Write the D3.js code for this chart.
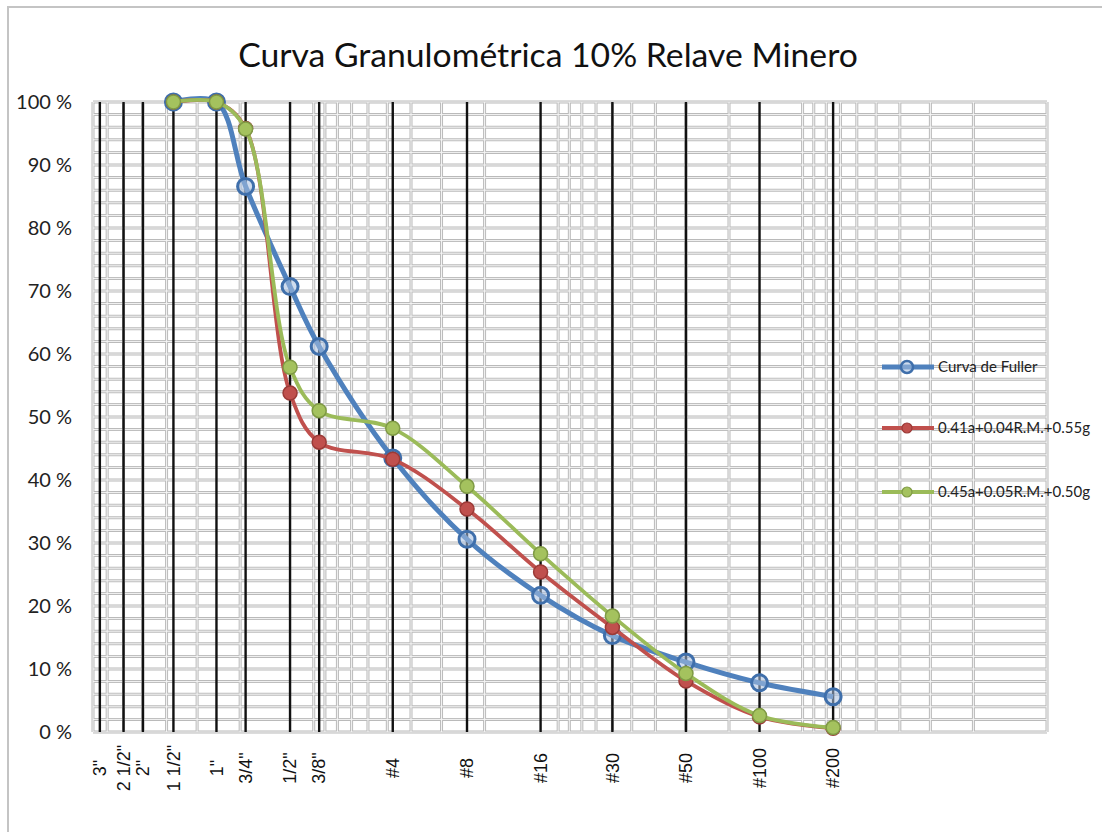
<!DOCTYPE html>
<html><head><meta charset="utf-8">
<script src="https://cdn.jsdelivr.net/npm/d3@7"></script>
<style>body{margin:0;background:#fff}</style></head>
<body>
<svg id="c" width="1102" height="832"></svg>
<script>
// ---- data ----
const sieveLabels = ['3"', '2 1/2"', '2"', '1 1/2"', '1"', '3/4"', '1/2"', '3/8"', '#4', '#8', '#16', '#30', '#50', '#100', '#200'];
const sieveSizes  = [75, 60, 50, 37.5, 25, 19, 12.5, 9.5, 4.75, 2.36, 1.18, 0.6, 0.3, 0.15, 0.075];
const dataSizes   = [37.5, 25, 19, 12.5, 9.5, 4.75, 2.36, 1.18, 0.6, 0.3, 0.15, 0.075];
const fuller = [100, 100, 86.6, 70.7, 61.2, 43.5, 30.6, 21.7, 15.3, 11.1, 7.8, 5.6];
const mix41  = [100, 100, 95.8, 53.8, 46.0, 43.3, 35.4, 25.4, 16.6, 8.1, 2.4, 0.6];
const mix45  = [100, 100, 95.7, 57.9, 51.0, 48.2, 39.0, 28.3, 18.4, 9.3, 2.6, 0.7];
const seriesNames = ['Curva de Fuller', '0.41a+0.04R.M.+0.55g', '0.45a+0.05R.M.+0.50g'];
const yTicks = [0, 10, 20, 30, 40, 50, 60, 70, 80, 90, 100];
const title = 'Curva Granulométrica 10% Relave Minero';

// ---- layout ----
const svg = d3.select('#c');
const L = 93, R = 1047, T = 102, B = 732;
const x = d3.scaleLog().domain([80, 0.01]).range([L, R]);
const y = d3.scaleLinear().domain([0, 100]).range([B, T]);

// frame
svg.append('rect').attr('x', 8).attr('y', 7).attr('width', 1200).attr('height', 900)
  .attr('fill', '#fff').attr('stroke', '#c4c4c4').attr('stroke-width', 2);

// grid
const g = svg.append('g');
const minor = [];
for (let k = -2; k <= 1; k++) for (let d = 1; d <= 9; d++) {
  const v = +(d * Math.pow(10, k)).toPrecision(3);
  if (v >= 0.01 && v <= 80) minor.push(v);
}
const hvals = d3.range(0, 101, 2);
function gridLines(sel, w, col) {
  sel.selectAll(null).data(minor).join('line')
    .attr('x1', d => x(d)).attr('x2', d => x(d)).attr('y1', T).attr('y2', B)
    .attr('stroke', col).attr('stroke-width', w);
  sel.selectAll(null).data(hvals).join('line')
    .attr('x1', L).attr('x2', R).attr('y1', d => y(d)).attr('y2', d => y(d))
    .attr('stroke', col).attr('stroke-width', w);
}
gridLines(g.append('g'), 3, '#bababa');
gridLines(g.append('g'), 1, '#f5f5f5');

// sieve lines
svg.append('g').selectAll('line').data(sieveSizes).join('line')
  .attr('x1', d => x(d)).attr('x2', d => x(d)).attr('y1', T).attr('y2', B)
  .attr('stroke', '#111').attr('stroke-width', 2.4);

// y labels
svg.append('g').selectAll('text').data(yTicks).join('text')
  .attr('x', 72).attr('y', d => y(d)).attr('dy', '0.35em').attr('text-anchor', 'end')
  .attr('font-family', 'Lato, sans-serif').attr('font-size', 20).attr('fill', '#222')
  .text(d => d + ' %');

// x labels
svg.append('g').selectAll('text').data(sieveSizes).join('text')
  .attr('transform', d => `translate(${x(d)},768) rotate(-90)`)
  .attr('dy', '0.35em').attr('text-anchor', 'middle')
  .attr('font-family', 'Liberation Sans, Arial, sans-serif').attr('font-size', 18).attr('fill', '#111')
  .text((d, i) => sieveLabels[i]);

// title
const t = svg.append('text').attr('x', 548).attr('y', 67).attr('text-anchor', 'middle')
  .attr('font-family', 'Lato, sans-serif').attr('font-size', 28).attr('fill', '#111').text(title);
const tl = t.node().getComputedTextLength();
t.attr('font-size', 28 * 620 / tl);

// series
const styles = [
  {c: '#4f81bd', w: 5, r: 8, fill: '#a7c0e0', stroke: '#3f6fab', sw: 3},
  {c: '#c0504d', w: 3.8, r: 7, fill: '#c0504d', stroke: '#9b3a37', sw: 1.5},
  {c: '#9bbb59', w: 3.8, r: 7, fill: '#a4c25e', stroke: '#7f9a45', sw: 1.5}
];
const allSeries = [fuller, mix41, mix45];
const line = d3.line().x((d, i) => x(dataSizes[i])).y(d => y(d)).curve(d3.curveCatmullRom.alpha(0.5));
allSeries.forEach((s, k) => {
  const st = styles[k];
  const sg = svg.append('g');
  sg.append('path').datum(s).attr('d', line).attr('fill', 'none')
    .attr('stroke', st.c).attr('stroke-width', st.w).attr('stroke-linejoin', 'round');
  sg.selectAll('circle').data(s).join('circle')
    .attr('cx', (d, i) => x(dataSizes[i])).attr('cy', d => y(d)).attr('r', st.r)
    .attr('fill', st.fill).attr('fill-opacity', k === 0 ? 0.55 : 1)
    .attr('stroke', st.stroke).attr('stroke-width', st.sw);
});

// legend
const legY = [367, 428, 492];
const lg = svg.append('g');
seriesNames.forEach((n, k) => {
  const st = styles[k];
  lg.append('line').attr('x1', 882).attr('x2', 934).attr('y1', legY[k]).attr('y2', legY[k])
    .attr('stroke', st.c).attr('stroke-width', st.w);
  lg.append('circle').attr('cx', 907).attr('cy', legY[k]).attr('r', k === 0 ? 6 : 5)
    .attr('fill', st.fill).attr('fill-opacity', k === 0 ? 0.55 : 1)
    .attr('stroke', st.stroke).attr('stroke-width', k === 0 ? 2.5 : 1.2);
  lg.append('text').attr('x', 938).attr('y', legY[k]).attr('dy', '0.35em')
    .attr('font-family', 'Lato, sans-serif').attr('font-size', 15).attr('fill', '#222').text(n);
});
</script>
</body></html>
